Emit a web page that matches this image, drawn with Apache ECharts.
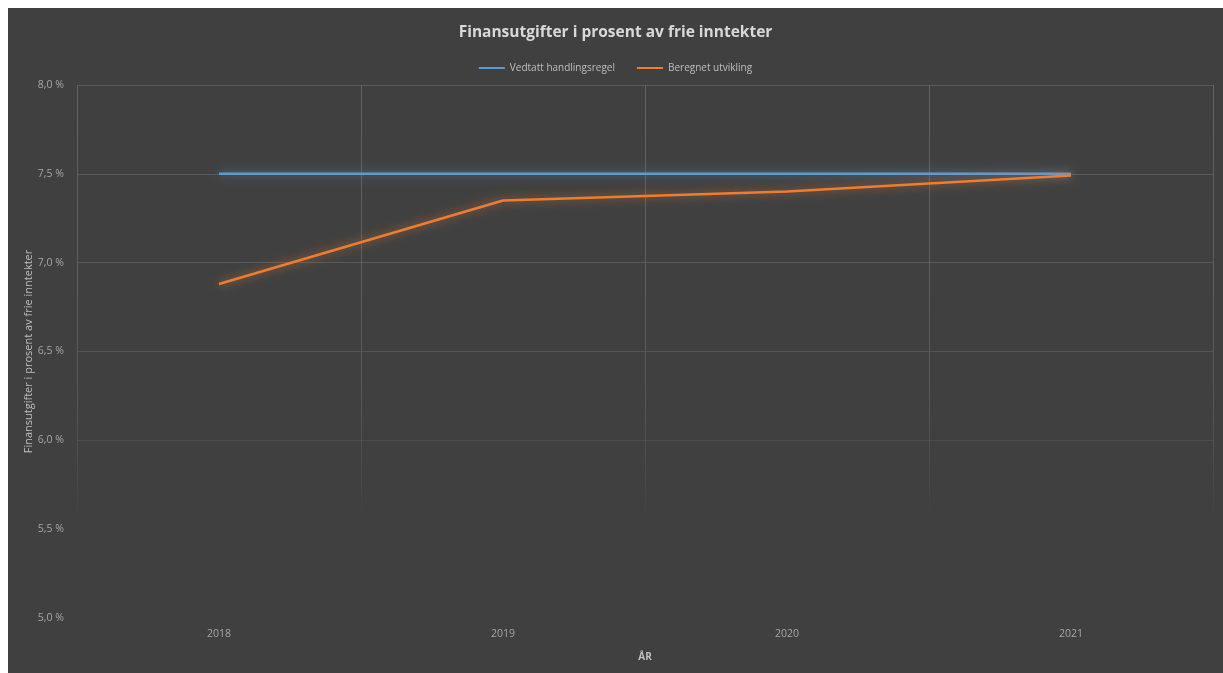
<!DOCTYPE html>
<html>
<head>
<meta charset="utf-8">
<script src="https://cdn.jsdelivr.net/npm/echarts@6/dist/echarts.min.js"></script>
<style>
  html, body { margin: 0; padding: 0; background: #ffffff; }
  #main { position: absolute; left: 8px; top: 8px; width: 1215px; height: 665px; }
</style>
</head>
<body>
<div id="main"></div>
<script>
var years = ['2018', '2019', '2020', '2021']
var handlingsregel = [7.5, 7.5, 7.5, 7.5]
var utvikling = [6.88, 7.35, 7.40, 7.49]

var myChart = echarts.init(document.getElementById('main'))
var font = 'Open Sans'

var option = {
  backgroundColor: '#404040',
  animation: false,
  title: {
    text: 'Finansutgifter i prosent av frie inntekter',
    left: 'center',
    top: 12,
    textStyle: { color: '#d9d9d9', fontSize: 15.5, fontWeight: 'bold', fontFamily: font }
  },
  legend: {
    top: 50,
    left: 'center',
    itemWidth: 26,
    itemHeight: 2,
    itemGap: 22,
    icon: 'rect',
    textStyle: { color: '#bfbfbf', fontSize: 10, fontFamily: font },
    data: ['Vedtatt handlingsregel', 'Beregnet utvikling']
  },
  grid: { left: 69, right: 10, top: 77, bottom: 55 },
  xAxis: {
    type: 'category',
    data: years,
    boundaryGap: true,
    name: 'ÅR',
    nameLocation: 'middle',
    nameGap: 34,
    nameTextStyle: { color: '#bfbfbf', fontSize: 10, fontWeight: 'bold', fontFamily: font },
    axisLine: { show: false },
    axisTick: { show: false },
    axisLabel: { color: '#a6a6a6', fontSize: 10.5, margin: 11, fontFamily: font },
    splitLine: {
      show: true,
      lineStyle: {
        width: 1,
        color: {
          type: 'linear', x: 0, y: 0, x2: 0, y2: 1,
          colorStops: [
            { offset: 0, color: 'rgba(98,98,98,1)' },
            { offset: 0.55, color: 'rgba(98,98,98,0.8)' },
            { offset: 0.82, color: 'rgba(98,98,98,0)' },
            { offset: 1, color: 'rgba(98,98,98,0)' }
          ]
        }
      }
    }
  },
  yAxis: {
    type: 'value',
    min: 5,
    max: 8,
    interval: 0.5,
    name: 'Finansutgifter i prosent av frie inntekter',
    nameLocation: 'middle',
    nameGap: 43,
    nameMoveOverlap: false,
    nameTextStyle: { color: '#bfbfbf', fontSize: 11, fontFamily: font },
    axisLine: { show: false },
    axisTick: { show: false },
    axisLabel: {
      color: '#a6a6a6',
      fontSize: 10.5,
      margin: 13,
      fontFamily: font,
      formatter: function (v) { return v.toFixed(1).replace('.', ',') + ' %' }
    },
    splitLine: {
      show: true,
      lineStyle: {
        width: 1,
        color: ['rgba(90,90,90,0)', 'rgba(90,90,90,0)', 'rgba(90,90,90,0.45)', '#555555', '#595959', '#5a5a5a', '#5a5a5a']
      }
    }
  },
  series: [
    {
      name: 'Vedtatt handlingsregel',
      type: 'line',
      data: handlingsregel,
      symbol: 'none',
      color: '#5b9bd5',
      lineStyle: { width: 2.5, color: '#5b9bd5', shadowBlur: 10, shadowColor: 'rgba(91,155,213,0.7)' }
    },
    {
      name: 'Beregnet utvikling',
      type: 'line',
      data: utvikling,
      symbol: 'none',
      color: '#ed7d31',
      lineStyle: { width: 2.5, color: '#ed7d31', shadowBlur: 10, shadowColor: 'rgba(237,125,49,0.7)' }
    }
  ]
}
myChart.setOption(option)
</script>
</body>
</html>
